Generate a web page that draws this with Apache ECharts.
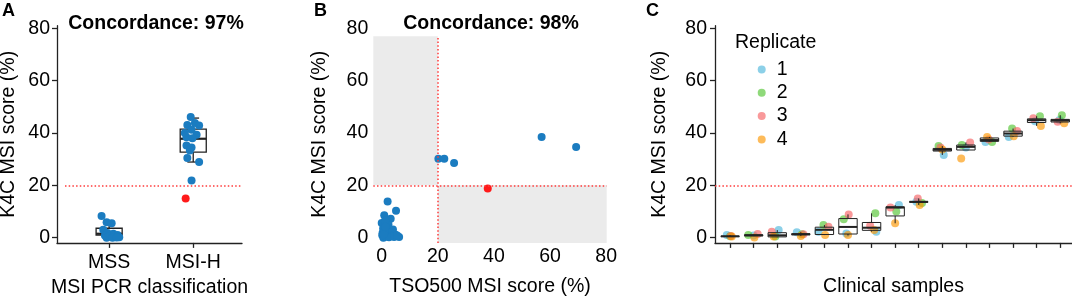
<!DOCTYPE html>
<html><head><meta charset="utf-8">
<script src="https://cdn.jsdelivr.net/npm/echarts@6/dist/echarts.min.js"></script>
<style>html,body{margin:0;padding:0;background:#fff}#c{width:1072px;height:301px}</style>
</head><body><div id="c"></div>
<script>
// ---------- data ----------
const THRESHOLD = 20;
const yTicks = [0, 20, 40, 60, 80];
const xTicksB = [0, 20, 40, 60, 80];
const groupsA = ['MSS', 'MSI-H'];
// Panel A: [group position incl. jitter, K4C score]
const mssPoints = [[0.91, 8.3], [0.97, 5.9], [1.03, 5.5], [0.93, 3.0], [0.98, 1.8], [1.05, 1.5], [1.10, 1.0],
  [0.95, 0.8], [1.00, 0.5], [1.07, 0.3], [1.12, 0.2], [0.97, 0.0], [1.04, 0.0], [1.09, 0.1]];
const msihPoints = [[1.97, 46.1], [1.93, 43.1], [2.02, 43.8], [2.07, 42.9], [1.98, 41.2], [2.04, 39.3], [1.92, 38.4],
  [1.99, 38.0], [1.92, 35.2], [1.98, 34.5], [1.96, 33.3], [1.93, 30.4], [2.07, 28.9], [1.98, 21.8], [1.90, 40.0]];
const discordantA = [[1.91, 15.0]];
// box stats: [position, min, Q1, median, Q3, max]
const boxA = [[1, 0.0, 1.0, 1.5, 3.6, 5.9], [2, 28.9, 32.7, 37.8, 41.5, 45.7]];
// Panel B: [TSO500 score, K4C score]
const pointsB = [[2.1, 13.8], [5.1, 10.3], [0.9, 8.6], [3.2, 7.2], [0.0, 5.6], [2.4, 5.0], [1.2, 6.5], [4.0, 3.1],
  [0.5, 3.5], [1.8, 2.8], [3.0, 2.0], [0.3, 1.8], [2.0, 1.0], [4.8, 1.2], [6.2, 0.3], [0.6, 0.0], [1.5, 0.4],
  [3.5, 0.6], [0.2, 0.9], [2.6, 0.2], [1.0, 2.2], [4.4, 0.3], [5.5, 0.8], [1.3, 4.2], [0.7, 1.2],
  [20.2, 30.2], [22.3, 30.2], [25.8, 28.5], [57.0, 38.5], [69.3, 34.6]];
const discordantB = [[37.8, 18.8]];
// Panel C
const samplesC = [1, 2, 3, 4, 5, 6, 7, 8, 9, 10, 11, 12, 13, 14, 15];
const replicateNames = ['1', '2', '3', '4'];
const rep1 = [1.0, 0.8, 2.9, 2.1, 2.3, 1.6, 2.3, 12.5, 13.7, 31.6, 34.5, 36.6, 38.5, 44.5, 45.0];
const rep2 = [0.5, 1.0, 0.4, 1.3, 4.8, 7.0, 9.3, 10.0, 13.2, 35.0, 35.4, 36.6, 41.7, 46.4, 46.8];
const rep3 = [0.6, 1.4, 2.3, 1.3, 4.2, 8.9, 4.6, 11.5, 15.0, 34.5, 36.4, 37.5, 40.8, 45.6, 44.3];
const rep4 = [0.4, 0.1, 0.4, 0.6, 1.0, 1.0, 2.9, 5.5, 12.5, 33.7, 30.3, 38.5, 38.8, 42.7, 43.7];
const jit1 = [-0.14, 0.00, 0.06, -0.17, -0.25, -0.07, 0.20, 0.16, -0.10, 0.06, 0.00, -0.17, -0.18, -0.07, -0.03];
const jit2 = [0.00, -0.23, -0.08, 0.05, -0.04, -0.18, 0.16, 0.05, 0.14, -0.16, -0.17, 0.11, -0.04, 0.14, 0.07];
const jit3 = [0.03, 0.17, -0.23, 0.11, 0.17, 0.03, -0.06, -0.20, -0.04, -0.08, 0.18, -0.03, 0.17, -0.14, -0.11];
const jit4 = [0.07, 0.03, -0.15, 0.00, 0.03, 0.00, 0.11, 0.00, 0.04, 0.00, -0.20, -0.10, 0.03, 0.18, 0.17];
// box stats per sample: [min, Q1, median, Q3, max]
const boxC = [[0.4, 0.45, 0.5, 0.6, 1.0], [0.6, 0.7, 0.9, 1.1, 1.2], [0.2, 0.3, 0.9, 1.9, 2.9], [0.6, 1.1, 1.3, 1.5, 2.1],
  [1.0, 1.2, 3.0, 4.0, 4.8], [0.8, 1.4, 4.1, 7.3, 8.9], [2.3, 2.8, 3.8, 5.8, 9.3], [5.5, 8.3, 11.5, 11.8, 12.5],
  [12.5, 13.5, 13.7, 13.8, 15.0], [31.6, 33.1, 33.6, 34.1, 35.0], [33.5, 33.5, 34.7, 35.4, 36.4], [36.6, 36.8, 37.3, 38.1, 38.5],
  [38.5, 38.8, 39.8, 40.7, 41.7], [42.7, 44.0, 44.9, 45.4, 46.4], [43.7, 44.2, 44.8, 45.2, 46.8]];

// ---------- layout / style ----------
const FONT = '"Liberation Sans", Arial, sans-serif';
const FS = 19.5;
const Y_MIN = -2, Y_MAX = 81;
const B_XMIN = -3, B_XMAX = 80.2, B_SHADE_TOP = 77;
const AX = '#222';
const BLUE = '#1b7cc0', RED = '#ff1a1a';
const repColors = ['#4eb7dc', '#53c533', '#f66264', '#fc9701'];
const dotLine = {color: '#ff3b3b', type: [1.5, 2.2], width: 1.5};

function yAxisCfg(gi, show, margin, gap) {
  return {
    type: 'value', gridIndex: gi, min: Y_MIN, max: Y_MAX,
    name: 'K4C MSI score (%)', nameLocation: 'middle', nameGap: gap,
    nameTextStyle: {fontSize: FS, color: '#000', fontFamily: FONT},
    axisLine: {show: show, onZero: false, lineStyle: {color: AX, width: 1.3}},
    axisTick: {show: show, length: 5, customValues: yTicks, lineStyle: {color: AX, width: 1.3}},
    axisLabel: {customValues: yTicks, margin: margin, fontSize: FS, color: '#000', fontFamily: FONT},
    splitLine: {show: false}
  };
}

function boxRender(bw, lw, medW, capW) {
  return function (params, api) {
    const x = api.value(0);
    const lo = api.coord([x, api.value(1)]), q1 = api.coord([x, api.value(2)]),
      md = api.coord([x, api.value(3)]), q3 = api.coord([x, api.value(4)]), hi = api.coord([x, api.value(5)]);
    const w = api.size([bw, 0])[0];
    const cx = lo[0];
    const st = {stroke: AX, lineWidth: lw, fill: 'none'};
    const ch = [
      {type: 'line', shape: {x1: cx, y1: q3[1], x2: cx, y2: hi[1]}, style: st},
      {type: 'line', shape: {x1: cx, y1: q1[1], x2: cx, y2: lo[1]}, style: st},
      {type: 'rect', shape: {x: cx - w / 2, y: q3[1], width: w, height: Math.max(q1[1] - q3[1], 0)}, style: st},
      {type: 'line', shape: {x1: cx - w / 2, y1: md[1], x2: cx + w / 2, y2: md[1]}, style: {stroke: AX, lineWidth: medW}}
    ];
    if (capW) {
      const c = api.size([capW, 0])[0];
      ch.push({type: 'line', shape: {x1: cx - c / 2, y1: hi[1], x2: cx + c / 2, y2: hi[1]}, style: st});
      ch.push({type: 'line', shape: {x1: cx - c / 2, y1: lo[1], x2: cx + c / 2, y2: lo[1]}, style: st});
    }
    return {type: 'group', children: ch};
  };
}

const reps = [rep1, rep2, rep3, rep4];
const jits = [jit1, jit2, jit3, jit4];
const repSeries = replicateNames.map((nm, r) => ({
  name: nm, type: 'scatter', xAxisIndex: 2, yAxisIndex: 2, symbolSize: 8,
  itemStyle: {color: repColors[r], opacity: 0.65},
  data: samplesC.map((s, i) => [s + jits[r][i], reps[r][i]]),
  z: 2
}));

const option = {
  animation: false,
  textStyle: {fontFamily: FONT},
  grid: [
    {left: 57, top: 25.7, width: 185, height: 217.2, outerBoundsMode: 'none'},
    {left: 373.3, top: 25.7, width: 233.4, height: 217.2, outerBoundsMode: 'none'},
    {left: 715, top: 25.7, width: 357, height: 217.2, outerBoundsMode: 'none'}
  ],
  xAxis: [
    {
      type: 'value', gridIndex: 0, min: 0.38, max: 2.58,
      name: 'MSI PCR classification', nameLocation: 'middle', nameGap: 34,
      nameTextStyle: {fontSize: FS, color: '#000', fontFamily: FONT},
      axisLine: {onZero: false, lineStyle: {color: AX, width: 1.3}},
      axisTick: {length: 5, customValues: [1, 2], lineStyle: {color: AX, width: 1.3}},
      axisLabel: {customValues: [1, 2], margin: 10, fontSize: FS, color: '#000', fontFamily: FONT,
        formatter: v => groupsA[Math.round(v) - 1]},
      splitLine: {show: false}
    },
    {
      type: 'value', gridIndex: 1, min: B_XMIN, max: B_XMAX,
      name: 'TSO500 MSI score (%)', nameLocation: 'middle', nameGap: 34,
      nameTextStyle: {fontSize: FS, color: '#000', fontFamily: FONT},
      axisLine: {show: false, onZero: false},
      axisTick: {show: false},
      axisLabel: {customValues: xTicksB, margin: 4, fontSize: FS, color: '#000', fontFamily: FONT},
      splitLine: {show: false}
    },
    {
      type: 'value', gridIndex: 2, min: 0.36, max: 15.5,
      name: 'Clinical samples', nameLocation: 'middle', nameGap: 34,
      nameTextStyle: {fontSize: FS, color: '#000', fontFamily: FONT},
      axisLine: {onZero: false, lineStyle: {color: AX, width: 1.3}},
      axisTick: {length: 5, customValues: samplesC, lineStyle: {color: AX, width: 1.3}},
      axisLabel: {show: false},
      splitLine: {show: false}
    }
  ],
  yAxis: [yAxisCfg(0, true, 7, 38), yAxisCfg(1, false, 5, 44), yAxisCfg(2, true, 8, 45)],
  legend: {
    data: replicateNames, orient: 'vertical', left: 752.7, top: 54.5, icon: 'circle',
    itemWidth: 20, itemHeight: 8, itemGap: 3.3,
    textStyle: {fontSize: FS, color: '#000', fontFamily: FONT}
  },
  graphic: [
    {type: 'text', x: 2, y: 11, style: {text: 'A', font: 'bold 18px ' + FONT, fill: '#000', verticalAlign: 'middle'}},
    {type: 'text', x: 314, y: 11, style: {text: 'B', font: 'bold 18px ' + FONT, fill: '#000', verticalAlign: 'middle'}},
    {type: 'text', x: 646, y: 11, style: {text: 'C', font: 'bold 18px ' + FONT, fill: '#000', verticalAlign: 'middle'}},
    {type: 'text', x: 156, y: 24, style: {text: 'Concordance: 97%', font: 'bold 19.5px ' + FONT, fill: '#000', align: 'center', verticalAlign: 'middle'}},
    {type: 'text', x: 491, y: 24, style: {text: 'Concordance: 98%', font: 'bold 19.5px ' + FONT, fill: '#000', align: 'center', verticalAlign: 'middle'}},
    {type: 'text', x: 735, y: 43, style: {text: 'Replicate', font: '19.5px ' + FONT, fill: '#000', verticalAlign: 'middle'}}
  ],
  series: [
    // Panel A
    {
      type: 'custom', xAxisIndex: 0, yAxisIndex: 0, renderItem: boxRender(0.31, 1.3, 2.2, 0.14),
      data: boxA, encode: {x: 0, y: [1, 2, 3, 4, 5]}, z: 1, silent: true
    },
    {
      type: 'scatter', xAxisIndex: 0, yAxisIndex: 0, symbolSize: 8, itemStyle: {color: BLUE, opacity: 1},
      data: mssPoints.concat(msihPoints), z: 3,
      markLine: {silent: true, symbol: 'none', label: {show: false}, lineStyle: dotLine,
        data: [[{coord: [0.475, THRESHOLD]}, {coord: [2.58, THRESHOLD]}]]}
    },
    {type: 'scatter', xAxisIndex: 0, yAxisIndex: 0, symbolSize: 8, itemStyle: {color: RED, opacity: 1}, data: discordantA, z: 3},
    // Panel B
    {
      type: 'scatter', xAxisIndex: 1, yAxisIndex: 1, symbolSize: 8, itemStyle: {color: BLUE, opacity: 1},
      data: pointsB, z: 3,
      markArea: {silent: true, itemStyle: {color: '#ebebeb'},
        data: [[{coord: [B_XMIN, THRESHOLD]}, {coord: [THRESHOLD, B_SHADE_TOP]}],
               [{coord: [THRESHOLD, Y_MIN]}, {coord: [B_XMAX, THRESHOLD]}]]},
      markLine: {silent: true, symbol: 'none', label: {show: false}, lineStyle: dotLine,
        data: [[{coord: [B_XMIN, THRESHOLD]}, {coord: [B_XMAX, THRESHOLD]}],
               [{coord: [THRESHOLD, Y_MIN]}, {coord: [THRESHOLD, B_SHADE_TOP]}]]}
    },
    {type: 'scatter', xAxisIndex: 1, yAxisIndex: 1, symbolSize: 8, itemStyle: {color: RED, opacity: 1}, data: discordantB, z: 3},
    // Panel C
    ...repSeries,
    {
      type: 'custom', xAxisIndex: 2, yAxisIndex: 2, renderItem: boxRender(0.78, 1, 2, 0),
      data: samplesC.map((s, i) => [s].concat(boxC[i])), encode: {x: 0, y: [1, 2, 3, 4, 5]}, z: 4, silent: true,
      markLine: {silent: true, symbol: 'none', label: {show: false}, lineStyle: dotLine,
        data: [{yAxis: THRESHOLD}]}
    }
  ]
};
const chart = echarts.init(document.getElementById('c'), null, {renderer: 'canvas'});
chart.setOption(option);
</script></body></html>
